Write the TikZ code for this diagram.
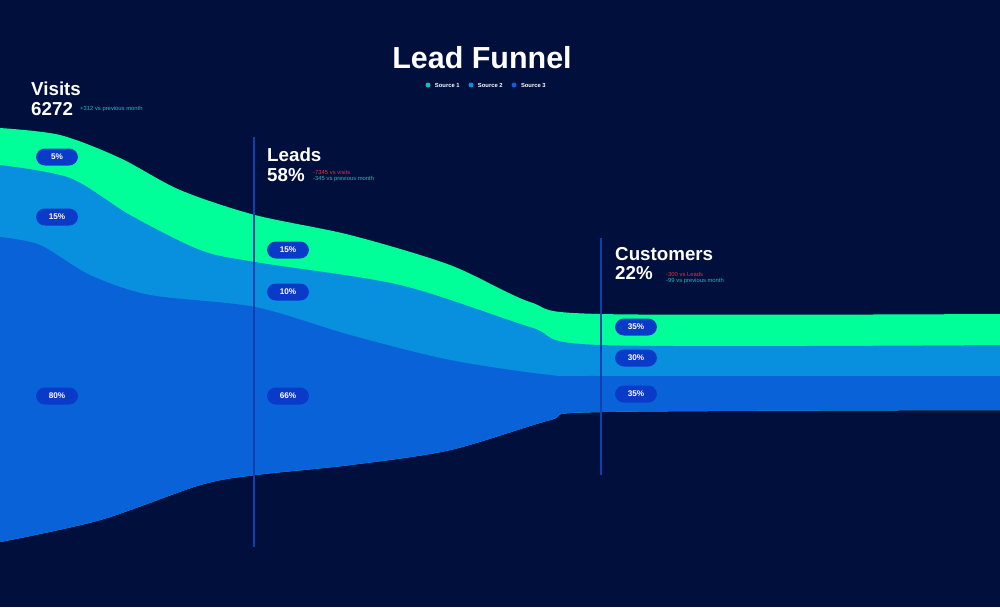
\documentclass[tikz,border=0pt]{standalone}
\usepackage{fontspec}
\setmainfont{Liberation Sans}
\usetikzlibrary{positioning}
\definecolor{bgnavy}{RGB}{0,15,60}
\definecolor{srcgreen}{RGB}{0,255,153}
\definecolor{srclight}{RGB}{8,143,222}
\definecolor{srcblue}{RGB}{9,98,216}
\definecolor{pillblue}{RGB}{10,58,200}
\definecolor{stageline}{RGB}{16,64,176}
\definecolor{gaintxt}{RGB}{20,190,190}
\definecolor{losstxt}{RGB}{230,50,60}
\tikzset{
  pill/.style={fill=pillblue,rounded corners=7.5pt,minimum width=42*0.03cm,minimum height=17*0.03cm,text=white,font=\bfseries\fontsize{7}{8}\selectfont,inner sep=0pt},
  stage/.style={text=white,font=\bfseries\fontsize{16}{18}\selectfont,anchor=west,inner sep=0pt},
  note/.style={font=\fontsize{5}{6}\selectfont,anchor=west,inner sep=0pt,align=left},
  legend/.style={text=white,font=\bfseries\fontsize{5}{6}\selectfont,anchor=west,inner sep=0pt},
  dot/.style={circle,inner sep=0pt,minimum size=0.15cm}
}
\begin{document}
\begin{tikzpicture}[x=0.03cm,y=-0.03cm]
        \fill[bgnavy] (0,0) rectangle (1000,607);
        \useasboundingbox (0,0) rectangle (1000,607);

        % funnel bands
        \fill[srcgreen] plot[smooth] coordinates {(0,128) (60,135) (120,158) (180,190) (255,215) (350,235) (450,265) (530,302) (600,314) (1000,314)}
          -- plot[smooth] coordinates {(1000,410) (600,412) (550,420) (450,450) (350,465) (255,475) (200,485) (100,520) (0,542)} -- cycle;
        \fill[srclight] plot[smooth] coordinates {(0,165) (70,178) (130,215) (200,250) (255,262) (400,285) (530,327) (600,345) (1000,345)}
          -- plot[smooth] coordinates {(1000,410) (600,412) (550,420) (450,450) (350,465) (255,475) (200,485) (100,520) (0,542)} -- cycle;
        \fill[srcblue] plot[smooth] coordinates {(0,237) (40,245) (90,275) (150,295) (255,307) (350,335) (450,360) (550,375) (600,376) (1000,376)}
          -- plot[smooth] coordinates {(1000,410) (600,412) (550,420) (450,450) (350,465) (255,475) (200,485) (100,520) (0,542)} -- cycle;

        % stage lines
        \coordinate (l1t) at (254,137); \coordinate (l1b) at (254,547);
        \coordinate (l2t) at (601,238); \coordinate (l2b) at (601,475);
        \draw[stageline,line width=1.2pt] (l1t) -- (l1b);
        \draw[stageline,line width=1.2pt] (l2t) -- (l2b);

        % title and legend
        \node[text=white,font=\bfseries\fontsize{26}{28}\selectfont] (title) at (482,58) {Lead Funnel};
        \node[dot,fill=gaintxt] (d1) at (428,85) {};
        \node[legend,right=0.12cm of d1] (s1) {Source 1};
        \node[dot,fill=srclight,right=0.25cm of s1] (d2) {};
        \node[legend,right=0.12cm of d2] (s2) {Source 2};
        \node[dot,fill=srcblue,right=0.25cm of s2] (d3) {};
        \node[legend,right=0.12cm of d3] (s3) {Source 3};

        % stage headings
        \node[stage] (visits) at (31,89) {Visits};
        \node[stage] (visitsnum) at (31,109) {6272};
        \node[note,text=gaintxt] (visitsnote) at (80,109) {+312 vs previous month};
        \node[stage] (leads) at (267,155) {Leads};
        \node[stage] (leadsnum) at (267,175) {58\%};
        \node[note] (leadsnote) at (313,176) {\textcolor{losstxt}{-7345 vs visits}\\[-1pt]\textcolor{gaintxt}{-345 vs previous month}};
        \node[stage] (cust) at (615,254) {Customers};
        \node[stage] (custnum) at (615,273) {22\%};
        \node[note] (custnote) at (666,278) {\textcolor{losstxt}{-300 vs Leads}\\[-1pt]\textcolor{gaintxt}{-99 vs previous month}};

        % percentage pills
        \node[pill] (v1) at (57,157) {5\%};
        \node[pill] (v2) at (57,217) {15\%};
        \node[pill] (v3) at (57,396) {80\%};
        \node[pill] (p1) at (288,250) {15\%};
        \node[pill] (p2) at (288,292) {10\%};
        \node[pill] (p3) at (288,396) {66\%};
        \node[pill] (c1) at (636,327) {35\%};
        \node[pill] (c2) at (636,358) {30\%};
        \node[pill] (c3) at (636,394) {35\%};
\end{tikzpicture}
\end{document}
